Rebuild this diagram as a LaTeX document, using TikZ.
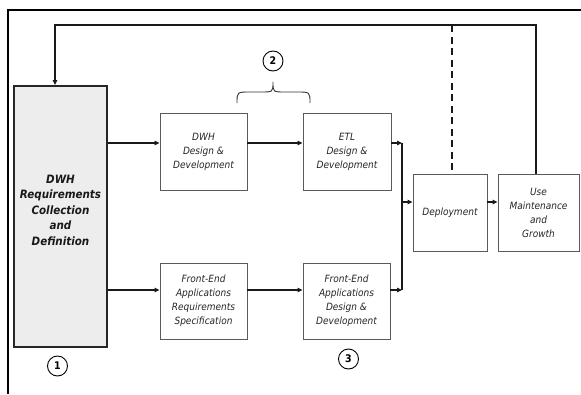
\documentclass[tikz,border=0pt]{standalone}
\usepackage{fontspec}
\setmainfont{DejaVu Sans}[FakeStretch=0.9]
\usetikzlibrary{arrows.meta}
\begin{document}
\begin{tikzpicture}[x=1pt,y=-1pt,
  box/.style={draw=black!65, line width=0.9pt, fill=white, align=center,
    text=black!85, font=\itshape\fontsize{10}{14}\selectfont, inner sep=0pt},
  reqbox/.style={draw=black!85, line width=1.8pt, fill=black!7},
  reqtext/.style={align=center, text=black!90,
    font=\bfseries\itshape\fontsize{11.5}{15.5}\selectfont},
  num/.style={circle, draw=black, line width=0.9pt, minimum size=20pt,
    inner sep=0pt, font=\bfseries\fontsize{10.5}{10.5}\selectfont},
  conn/.style={draw=black!90, line width=1.2pt},
  arr/.style={conn, -{Triangle[length=5pt,width=4.5pt]}},
  dashline/.style={draw=black!90, line width=1.6pt, dash pattern=on 7pt off 4.5pt},
]
\useasboundingbox (0,0) rectangle (581,394);
% frame
\draw[line width=1.5pt] (8,394) -- (8,10) -- (581,10);
% boxes
\node[reqbox, minimum width=93pt, minimum height=261pt] (req) at (60.5,216.5) {};
\node[reqtext] (reqt) at (60.5,210) {DWH\\Requirements\\Collection\\and\\Definition};
\node[box, minimum width=87pt, minimum height=77pt] (dwh) at (203.5,151.5) {DWH\\Design \&\\Development};
\node[box, minimum width=88pt, minimum height=77pt] (etl) at (347,151.5) {ETL\\Design \&\\Development};
\node[box, minimum width=87pt, minimum height=76pt] (fer) at (203.5,301) {Front-End\\Applications\\Requirements\\Specification};
\node[box, minimum width=87pt, minimum height=76pt] (fed) at (346.5,301) {Front-End\\Applications\\Design \&\\Development};
\node[box, minimum width=74pt, minimum height=77pt] (dep) at (450,212.5) {Deployment};
\node[box, minimum width=81pt, minimum height=77pt] (use) at (538.5,212.5) {Use\\Maintenance\\and\\Growth};
% numbers
\node[num] (n1) at (57.5,366) {1};
\node[num] (n2) at (273,61) {2};
\node[num] (n3) at (348.5,359) {3};
% brace
\draw[black!80, line width=0.9pt] (237,103) .. controls (237,92) .. (250,92) -- (261,92)
  .. controls (273,92) .. (273,82) .. controls (273,92) .. (285,92) -- (297,92)
  .. controls (310,92) .. (310,103);
% row coordinates
\coordinate (rowA) at (0,143);
\coordinate (rowB) at (0,290);
\coordinate (rowC) at (0,202);
\coordinate (jx) at (402,0);
\coordinate (fbR) at (536,25);
\coordinate (fbL) at (55,25);
\coordinate (dsh) at (452,25);
% connectors
\draw[arr] (req.east |- rowA) -- (dwh.west |- rowA);
\draw[arr] (dwh.east |- rowA) -- (etl.west |- rowA);
\draw[arr] (req.east |- rowB) -- (fer.west |- rowB);
\draw[arr] (fer.east |- rowB) -- (fed.west |- rowB);
\draw[arr] (etl.east |- rowA) -- (jx |- rowA);
\draw[arr] (fed.east |- rowB) -- (jx |- rowB);
\draw[conn] (jx |- rowA) -- (jx |- rowB);
\draw[arr] (jx |- rowC) -- (dep.west |- rowC);
\draw[arr] (dep.east |- rowC) -- (use.west |- rowC);
\draw[arr] (fbR |- use.north) -- (fbR) -- (fbL) -- (fbL |- req.north);
\draw[dashline] (dsh) -- (dsh |- dep.north);
\end{tikzpicture}
\end{document}
